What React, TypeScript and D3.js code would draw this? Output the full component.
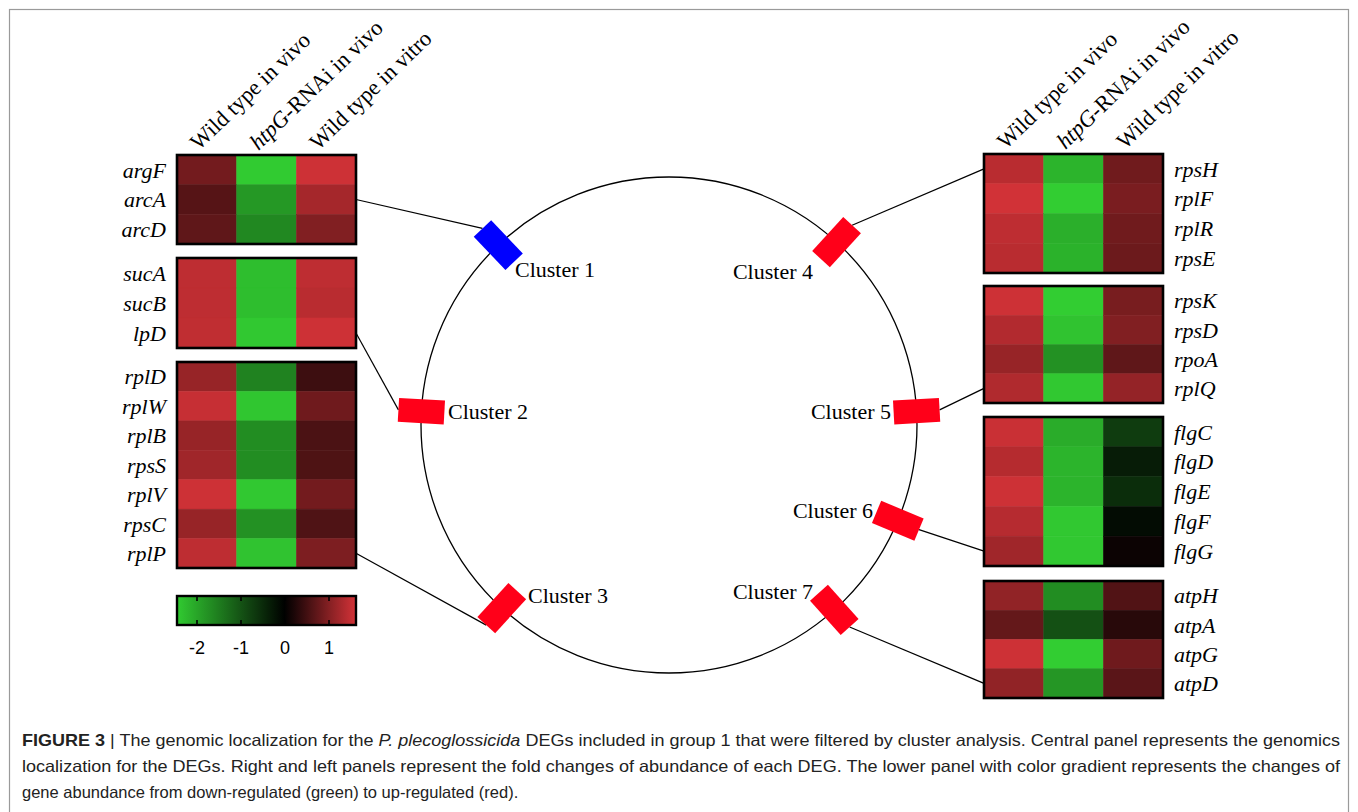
import React from "react";
import * as d3 from "d3";

// ---------- data ----------
const columns = ["Wild type in vivo", "htpG-RNAi in vivo", "Wild type in vitro"];

const cluster1Genes = ["argF", "arcA", "arcD"];
const cluster1Values = [
  [0.87, -2.45, 1.55],
  [0.65, -1.84, 1.25],
  [0.72, -1.64, 0.98],
];

const cluster2Genes = ["sucA", "sucB", "lpD"];
const cluster2Values = [
  [1.44, -2.3, 1.44],
  [1.44, -2.3, 1.4],
  [1.45, -2.42, 1.55],
];

const cluster3Genes = ["rplD", "rplW", "rplB", "rpsS", "rplV", "rpsC", "rplP"];
const cluster3Values = [
  [1.14, -1.57, 0.46],
  [1.5, -2.4, 0.84],
  [1.14, -1.7, 0.57],
  [1.21, -1.7, 0.59],
  [1.55, -2.42, 0.87],
  [1.14, -1.76, 0.6],
  [1.44, -2.36, 0.95],
];

const cluster4Genes = ["rpsH", "rplF", "rplR", "rpsE"];
const cluster4Values = [
  [1.4, -2.18, 0.85],
  [1.58, -2.48, 0.92],
  [1.44, -2.12, 0.85],
  [1.4, -2.15, 0.82],
];

const cluster5Genes = ["rpsK", "rpsD", "rpoA", "rplQ"];
const cluster5Values = [
  [1.55, -2.48, 0.91],
  [1.35, -2.36, 0.98],
  [1.14, -1.76, 0.72],
  [1.33, -2.42, 1.12],
];

const cluster6Genes = ["flgC", "flgD", "flgE", "flgF", "flgG"];
const cluster6Values = [
  [1.52, -2.08, -0.73],
  [1.37, -2.18, -0.34],
  [1.55, -2.18, -0.54],
  [1.38, -2.42, -0.15],
  [1.21, -2.42, 0.09],
];

const cluster7Genes = ["atpH", "atpA", "atpG", "atpD"];
const cluster7Values = [
  [1.1, -1.7, 0.61],
  [0.76, -0.97, 0.3],
  [1.55, -2.48, 0.84],
  [1.1, -1.82, 0.68],
];

const clusterNames = ["Cluster 1", "Cluster 2", "Cluster 3", "Cluster 4", "Cluster 5", "Cluster 6", "Cluster 7"];
// angular position on the genome circle (degrees, screen coordinates)
const clusterAngles = [-133.5, 183.2, 132.4, -47.5, -3.2, 22.7, 48.2];
// gene row the connector attaches to
const clusterLinkGenes = ["arcA", "lpD", "rplP", "rpsH", "rplQ", "flgG", "atpD"];

const colorbarTicks = [-2, -1, 0, 1];
const colorDomain = [-2.48, 0, 1.59];

// ---------- layout / style ----------
const W = 1358;
const H = 812;
const serif = "'Liberation Serif', 'Times New Roman', Times, serif";
const sans = "'Liberation Sans', Arial, Helvetica, sans-serif";
const narrow = "'Liberation Sans Narrow', 'Arial Narrow', 'Liberation Sans', Arial, sans-serif";
const markerColor = ["#0000ff", "#ff0019", "#ff0019", "#ff0019", "#ff0019", "#ff0019", "#ff0019"];

const blocks = [
  { genes: cluster1Genes, values: cluster1Values, side: "left", x0: 177, y0: 155, y1: 244, header: true },
  { genes: cluster2Genes, values: cluster2Values, side: "left", x0: 177, y0: 258, y1: 348, header: false },
  { genes: cluster3Genes, values: cluster3Values, side: "left", x0: 177, y0: 362, y1: 568, header: false },
  { genes: cluster4Genes, values: cluster4Values, side: "right", x0: 984, y0: 154, y1: 273, header: true },
  { genes: cluster5Genes, values: cluster5Values, side: "right", x0: 984, y0: 286, y1: 403, header: false },
  { genes: cluster6Genes, values: cluster6Values, side: "right", x0: 984, y0: 417, y1: 566, header: false },
  { genes: cluster7Genes, values: cluster7Values, side: "right", x0: 984, y0: 581, y1: 698, header: false },
];
const blockW = 179;

const labelPos = [
  { x: 515, y: 277, anchor: "start" },
  { x: 448, y: 419, anchor: "start" },
  { x: 528, y: 603, anchor: "start" },
  { x: 813, y: 279, anchor: "end" },
  { x: 891, y: 419, anchor: "end" },
  { x: 873, y: 518, anchor: "end" },
  { x: 813, y: 599, anchor: "end" },
];

const circle = { cx: 669, cy: 425, r: 248 };
const markerL = 46;
const markerT = 24;

const color = d3
  .scaleLinear<string>()
  .domain(colorDomain)
  .range(["#32cd32", "#000000", "#d23237"])
  .interpolate(d3.interpolateRgb)
  .clamp(true);

const cbScale = d3.scaleLinear().domain([-2, 1]).range([197, 329]);
const cbX0 = 177;
const cbX1 = 356;
const cbY0 = 596;
const cbY1 = 625;

export default function App() {
  const blockScales = blocks.map((b) => {
    const x = d3.scaleBand<string>().domain(columns).range([b.x0, b.x0 + blockW]);
    const y = d3.scaleBand<string>().domain(b.genes).range([b.y0, b.y1]);
    return { x, y };
  });

  const markers = clusterAngles.map((a, i) => {
    const t = (a * Math.PI) / 180;
    const mx = circle.cx + circle.r * Math.cos(t);
    const my = circle.cy + circle.r * Math.sin(t);
    const ox = mx + (markerL / 2) * Math.cos(t);
    const oy = my + (markerL / 2) * Math.sin(t);
    const b = blocks[i];
    const s = blockScales[i];
    const gy = (s.y(clusterLinkGenes[i]) as number) + s.y.bandwidth() / 2;
    const gx = b.side === "left" ? b.x0 + blockW : b.x0;
    return { a, mx, my, ox, oy, gx, gy };
  });

  const gradStops = d3.range(0, 21).map((k) => {
    const v = cbScale.invert(cbX0 + ((cbX1 - cbX0) * k) / 20);
    return { off: k / 20, c: color(v) };
  });

  return (
    <svg width={W} height={H} style={{ position: "absolute", left: 0, top: 0, background: "#fff" }}>
      <defs>
        <linearGradient id="cbgrad" x1="0" x2="1" y1="0" y2="0">
          {gradStops.map((s, i) => (
            <stop key={i} offset={s.off} stopColor={s.c} />
          ))}
        </linearGradient>
      </defs>
      <rect x={0} y={0} width={W} height={H} fill="#fff" />
      {/* figure frame */}
      <rect x={9.5} y={9.5} width={1339} height={830} fill="none" stroke="#9a9a9a" strokeWidth={1.2} />

      {/* genome circle */}
      <circle cx={circle.cx} cy={circle.cy} r={circle.r} fill="none" stroke="#000" strokeWidth={1.3} />

      {/* connectors */}
      {markers.map((m, i) => (
        <line key={"l" + i} x1={m.gx} y1={m.gy} x2={m.ox} y2={m.oy} stroke="#000" strokeWidth={1.2} />
      ))}

      {/* markers */}
      {markers.map((m, i) => (
        <rect
          key={"m" + i}
          x={-markerL / 2}
          y={-markerT / 2}
          width={markerL}
          height={markerT}
          fill={markerColor[i]}
          transform={`translate(${m.mx},${m.my}) rotate(${m.a})`}
        />
      ))}
      {clusterNames.map((n, i) => (
        <text
          key={"c" + i}
          x={labelPos[i].x}
          y={labelPos[i].y}
          textAnchor={labelPos[i].anchor}
          fontFamily={serif}
          fontSize={22}
          fill="#000"
        >
          {n}
        </text>
      ))}

      {/* heatmaps */}
      {blocks.map((b, bi) => {
        const { x, y } = blockScales[bi];
        return (
          <g key={"b" + bi}>
            {b.genes.map((g, gi) =>
              columns.map((c, ci) => (
                <rect
                  key={g + c}
                  x={x(c)}
                  y={y(g)}
                  width={x.bandwidth()}
                  height={y.bandwidth()}
                  fill={color(b.values[gi][ci])}
                  stroke={color(b.values[gi][ci])}
                  strokeWidth={0.5}
                />
              ))
            )}
            <rect
              x={b.x0}
              y={b.y0}
              width={blockW}
              height={b.y1 - b.y0}
              fill="none"
              stroke="#000"
              strokeWidth={2.6}
            />
            {b.genes.map((g) => (
              <text
                key={"t" + g}
                x={b.side === "left" ? b.x0 - 11 : b.x0 + blockW + 11}
                y={(y(g) as number) + y.bandwidth() / 2}
                dy="0.35em"
                textAnchor={b.side === "left" ? "end" : "start"}
                fontFamily={serif}
                fontStyle="italic"
                fontSize={22}
                fill="#000"
              >
                {g}
              </text>
            ))}
            {b.header &&
              columns.map((c) => {
                const hx = (x(c) as number) + x.bandwidth() / 2 - 8;
                const hy = b.y0 - 4;
                const italicPart = c.startsWith("htpG") ? "htpG" : "";
                const rest = italicPart ? c.slice(4) : c;
                return (
                  <text
                    key={"h" + c}
                    transform={`translate(${hx},${hy}) rotate(-44)`}
                    fontFamily={serif}
                    fontSize={22.5}
                    fill="#000"
                  >
                    {italicPart && <tspan fontStyle="italic">{italicPart}</tspan>}
                    <tspan>{rest}</tspan>
                  </text>
                );
              })}
          </g>
        );
      })}

      {/* colorbar */}
      <rect x={cbX0} y={cbY0} width={cbX1 - cbX0} height={cbY1 - cbY0} fill="url(#cbgrad)" stroke="#000" strokeWidth={2.4} />
      {colorbarTicks.map((t) => (
        <g key={"cb" + t}>
          <line x1={cbScale(t)} x2={cbScale(t)} y1={cbY0} y2={cbY0 + 5} stroke="#000" strokeWidth={1.6} />
          <line x1={cbScale(t)} x2={cbScale(t)} y1={cbY1 - 5} y2={cbY1} stroke="#000" strokeWidth={1.6} />
          <text x={cbScale(t)} y={654} textAnchor="middle" fontFamily={sans} fontSize={18} fill="#000">
            {t < 0 ? "-" + Math.abs(t) : String(t)}
          </text>
        </g>
      ))}

      {/* caption */}
      <g fontFamily={narrow} fontSize={16.5} fill="#222">
        <text x={22} y={746} textLength={1318} lengthAdjust="spacingAndGlyphs">
          <tspan fontWeight="bold">FIGURE 3</tspan>
          <tspan> | The genomic localization for the </tspan>
          <tspan fontStyle="italic">P. plecoglossicida</tspan>
          <tspan> DEGs included in group 1 that were filtered by cluster analysis. Central panel represents the genomics</tspan>
        </text>
        <text x={22} y={772} textLength={1318} lengthAdjust="spacingAndGlyphs">
          localization for the DEGs. Right and left panels represent the fold changes of abundance of each DEG. The lower panel with color gradient represents the changes of
        </text>
        <text x={22} y={798}>
          gene abundance from down-regulated (green) to up-regulated (red).
        </text>
      </g>
    </svg>
  );
}
